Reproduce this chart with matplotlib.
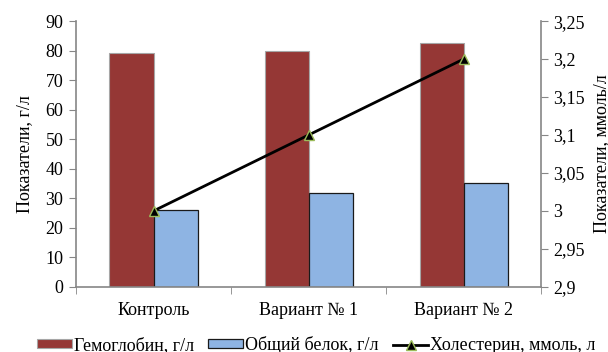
import matplotlib
matplotlib.use("Agg")
import matplotlib.pyplot as plt
from matplotlib.ticker import FuncFormatter, MultipleLocator
import numpy as np

plt.rcParams['font.family'] = ['Liberation Serif', 'DejaVu Serif']
plt.rcParams['font.size'] = 13

# data
categories = ["Контроль", "Вариант № 1", "Вариант № 2"]
hemoglobin = [79.1, 80.0, 82.7]      # г/л
protein = [26.0, 31.9, 35.3]         # г/л
cholesterol = [3.0, 3.1, 3.2]        # ммоль/л

axis_grey = "#868686"

fig = plt.figure(figsize=(6.08, 3.52), dpi=100)
ax = fig.add_axes([0.125, 0.185, 0.765, 0.755])

x = np.arange(len(categories))
w = 0.284
b1 = ax.bar(x - w / 2, hemoglobin, w, color="#953735", edgecolor="#a6a6a6",
            linewidth=0.8, label="Гемоглобин, г/л", zorder=2)
b2 = ax.bar(x + w / 2, protein, w, color="#8eb4e3", edgecolor="#1a1a1a",
            linewidth=0.9, label="Общий белок, г/л", zorder=2)

ax.set_xlim(-0.5, len(categories) - 0.5)
ax.set_ylim(0, 90)
ax.yaxis.set_major_locator(MultipleLocator(10))
ax.set_xticks(x)
ax.set_xticklabels(categories)
ax.set_xticks(np.arange(len(categories) + 1) - 0.5, minor=True)
ax.tick_params(axis="x", which="major", length=0, pad=11)
ax.tick_params(axis="x", which="minor", length=5, color=axis_grey)
ax.tick_params(axis="y", length=5, color=axis_grey, pad=4)
ax.set_ylabel("Показатели, г/л", labelpad=9)
for s in ["top", "right"]:
    ax.spines[s].set_visible(False)
for s in ["left", "bottom"]:
    ax.spines[s].set_color(axis_grey)
    ax.spines[s].set_linewidth(1.2)

ax2 = ax.twinx()
ln, = ax2.plot(x, cholesterol, color="black", linewidth=2, marker="^",
               markersize=7, markerfacecolor="black",
               markeredgecolor="#9bbb59", markeredgewidth=1,
               label="Холестерин, ммоль, л", zorder=3)
ax2.set_ylim(2.9, 3.25)
ax2.yaxis.set_major_locator(MultipleLocator(0.05))
ax2.yaxis.set_major_formatter(
    FuncFormatter(lambda v, p: ("%g" % round(v, 2)).replace(".", ",")))
ax2.tick_params(axis="y", length=5, color=axis_grey, pad=4)
ax2.set_ylabel("Показатели, ммоль/л", rotation=90, labelpad=6)
for s in ["top", "left", "bottom"]:
    ax2.spines[s].set_visible(False)
ax2.spines["right"].set_color(axis_grey)
ax2.spines["right"].set_linewidth(1.2)

fig.legend(handles=[b1, b2, ln], loc="center", bbox_to_anchor=(0.52, 0.02),
           ncol=3, frameon=False, handlelength=1.95, handleheight=0.35,
           handletextpad=0.1, columnspacing=0.8, borderaxespad=0)

fig.savefig("out.png", dpi=100)
